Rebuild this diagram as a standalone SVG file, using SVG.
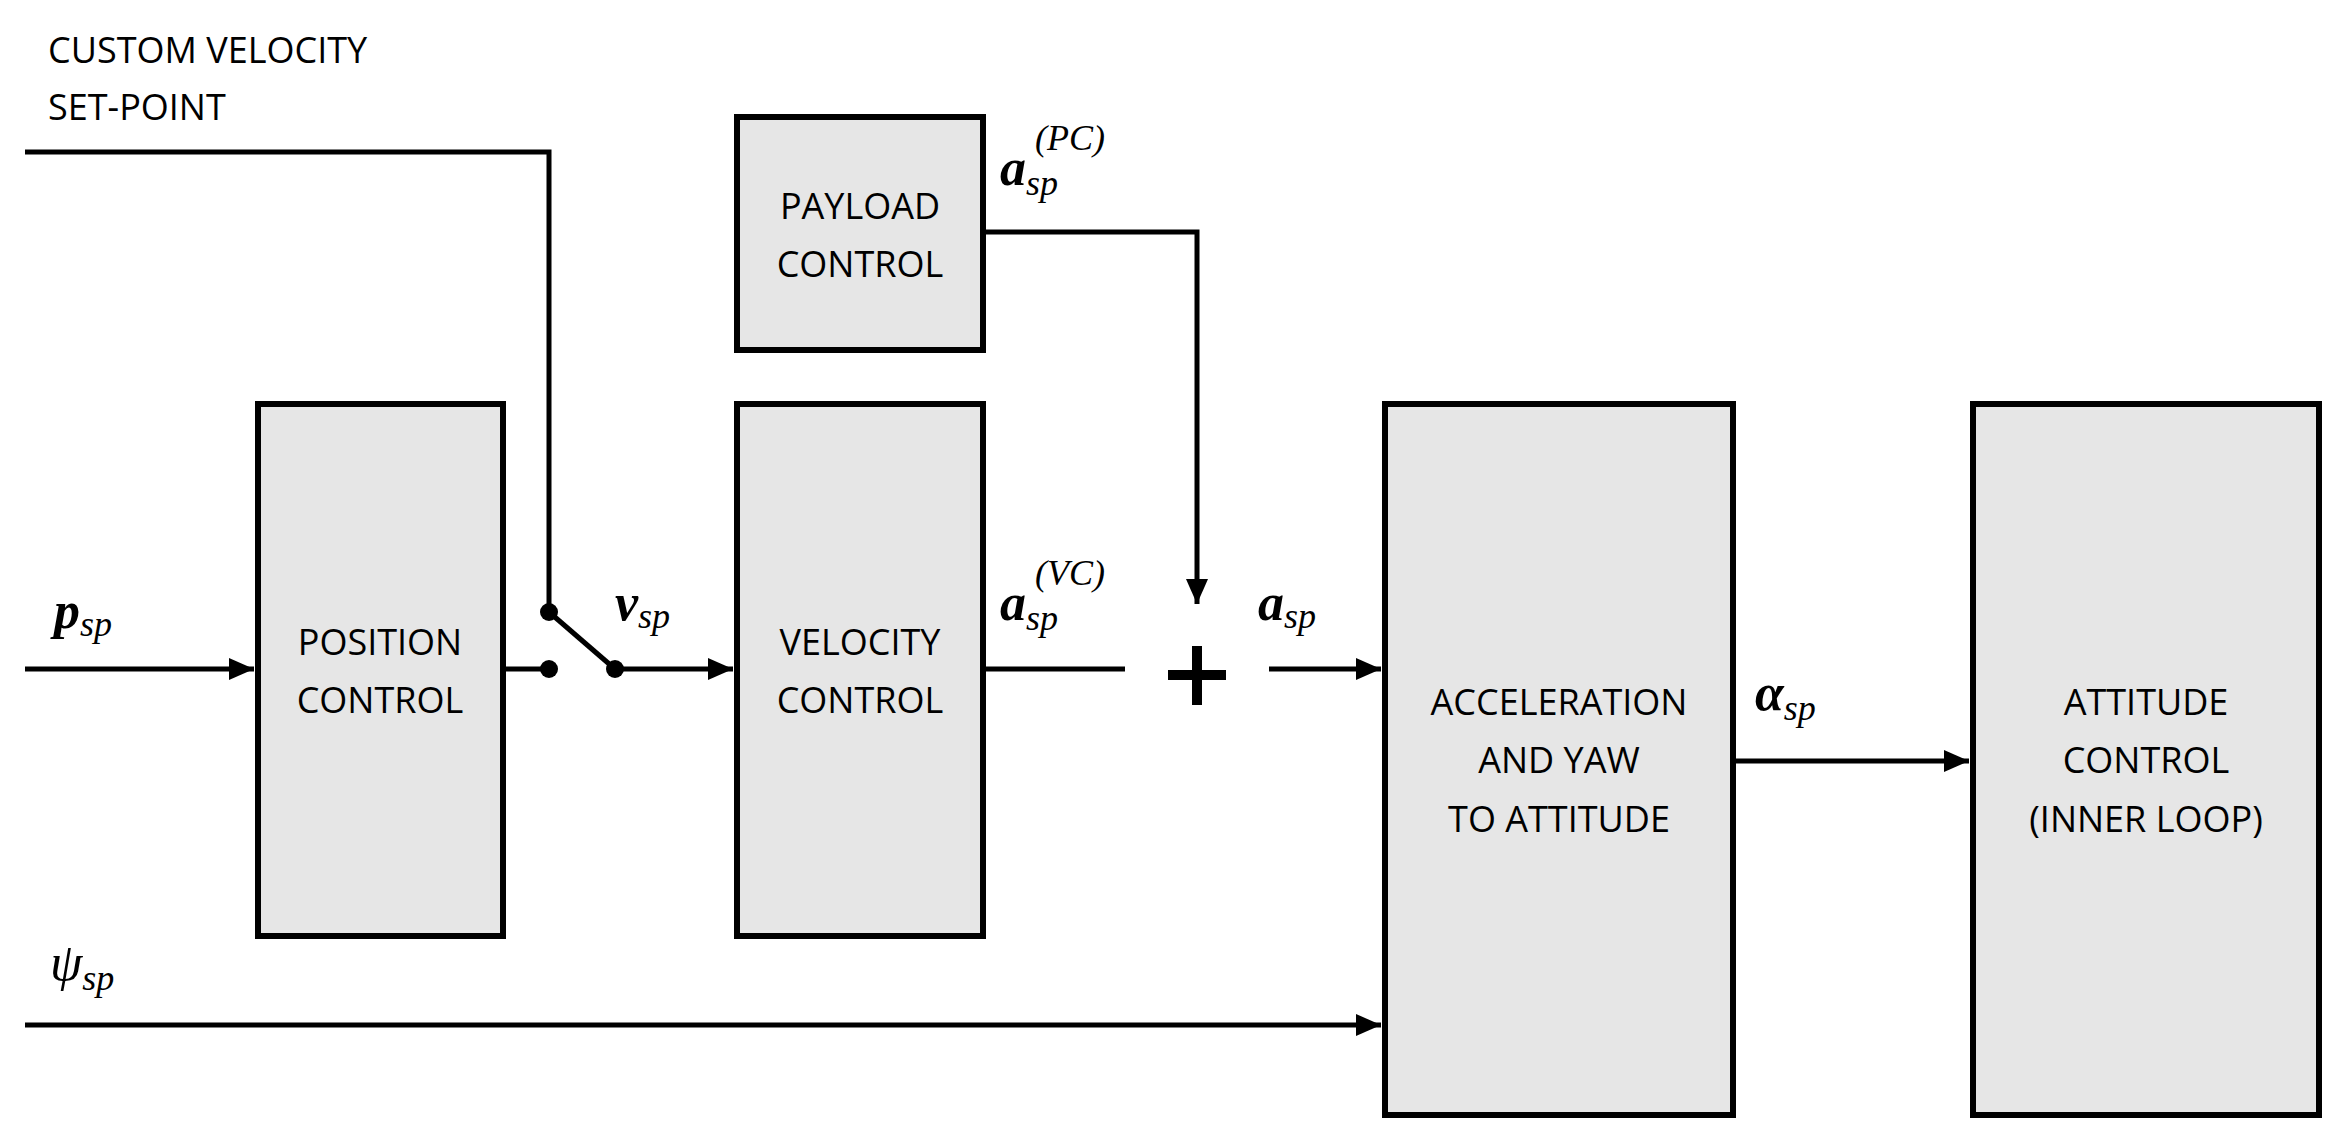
<svg xmlns="http://www.w3.org/2000/svg" width="2341" height="1136" viewBox="0 0 2341 1136">
<style>
.box{fill:#e6e6e6;stroke:#000;stroke-width:6}
.ln{fill:none;stroke:#000;stroke-width:5}
.t{font-family:"Open Sans","Liberation Sans",sans-serif;font-size:36px;text-anchor:middle;fill:#000}
.tl{font-family:"Open Sans","Liberation Sans",sans-serif;font-size:36px;fill:#000}
.m{font-family:"Liberation Serif",serif;font-style:italic;fill:#000}
.b{font-weight:bold;font-size:52px}
.s{font-size:36px}
</style>
<defs>
<marker id="ah" markerWidth="6" markerHeight="6" refX="5" refY="3" orient="auto" markerUnits="strokeWidth"><path d="M0,0.8 L5,3 L0,5.2 z" fill="#000"/></marker>
</defs>
<rect width="2341" height="1136" fill="#fff"/>
<g id="connectors">
<polyline class="ln" points="25,152 549,152 549,612"/>
<line class="ln" x1="25" y1="669" x2="254" y2="669" marker-end="url(#ah)"/>
<line class="ln" x1="503" y1="669" x2="549" y2="669"/>
<line class="ln" x1="549" y1="612" x2="615" y2="669"/>
<line class="ln" x1="615" y1="669" x2="733" y2="669" marker-end="url(#ah)"/>
<polyline class="ln" points="983,232 1197,232 1197,604" marker-end="url(#ah)"/>
<line class="ln" x1="983" y1="669" x2="1125" y2="669"/>
<line class="ln" x1="1269" y1="669" x2="1381" y2="669" marker-end="url(#ah)"/>
<line class="ln" x1="1733" y1="761" x2="1969" y2="761" marker-end="url(#ah)"/>
<line class="ln" x1="25" y1="1025" x2="1381" y2="1025" marker-end="url(#ah)"/>
<circle cx="549" cy="612" r="9"/>
<circle cx="549" cy="669" r="9"/>
<circle cx="615" cy="669" r="9"/>
<path d="M1168,675 H1226 M1197,646 V705" stroke="#000" stroke-width="10" fill="none"/>
</g>
<text class="tl" x="48" y="63">CUSTOM VELOCITY</text>
<text class="tl" x="48" y="120">SET-POINT</text>
<g id="position"><rect class="box" x="258" y="404" width="245" height="532"/>
<text class="t" x="380" y="655">POSITION</text><text class="t" x="380" y="713">CONTROL</text></g>
<g id="velocity"><rect class="box" x="737" y="404" width="246" height="532"/>
<text class="t" x="860" y="655">VELOCITY</text><text class="t" x="860" y="713">CONTROL</text></g>
<g id="payload"><rect class="box" x="737" y="117" width="246" height="233"/>
<text class="t" x="860" y="219">PAYLOAD</text><text class="t" x="860" y="277">CONTROL</text></g>
<g id="acc"><rect class="box" x="1385" y="404" width="348" height="711"/>
<text class="t" x="1559" y="715">ACCELERATION</text><text class="t" x="1559" y="773">AND YAW</text><text class="t" x="1559" y="832">TO ATTITUDE</text></g>
<g id="att"><rect class="box" x="1973" y="404" width="346" height="711"/>
<text class="t" x="2146" y="715">ATTITUDE</text><text class="t" x="2146" y="773">CONTROL</text><text class="t" x="2146" y="832">(INNER LOOP)</text></g>
<text class="m" x="54" y="628"><tspan class="b">p</tspan><tspan class="s" dy="8">sp</tspan></text>
<text class="m" x="615" y="620"><tspan class="b">v</tspan><tspan class="s" dy="8">sp</tspan></text>
<text class="m" x="1000" y="620"><tspan class="b">a</tspan><tspan class="s" dy="10">sp</tspan><tspan class="s" x="1035" y="585">(VC)</tspan></text>
<text class="m" x="1000" y="185"><tspan class="b">a</tspan><tspan class="s" dy="10">sp</tspan><tspan class="s" x="1035" y="150">(PC)</tspan></text>
<text class="m" x="1258" y="620"><tspan class="b">a</tspan><tspan class="s" dy="8">sp</tspan></text>
<text class="m" x="1755" y="710"><tspan class="b">α</tspan><tspan class="s" dy="10">sp</tspan></text>
<text class="m" x="50" y="980"><tspan font-size="52px">ψ</tspan><tspan class="s" dy="10">sp</tspan></text>
</svg>
